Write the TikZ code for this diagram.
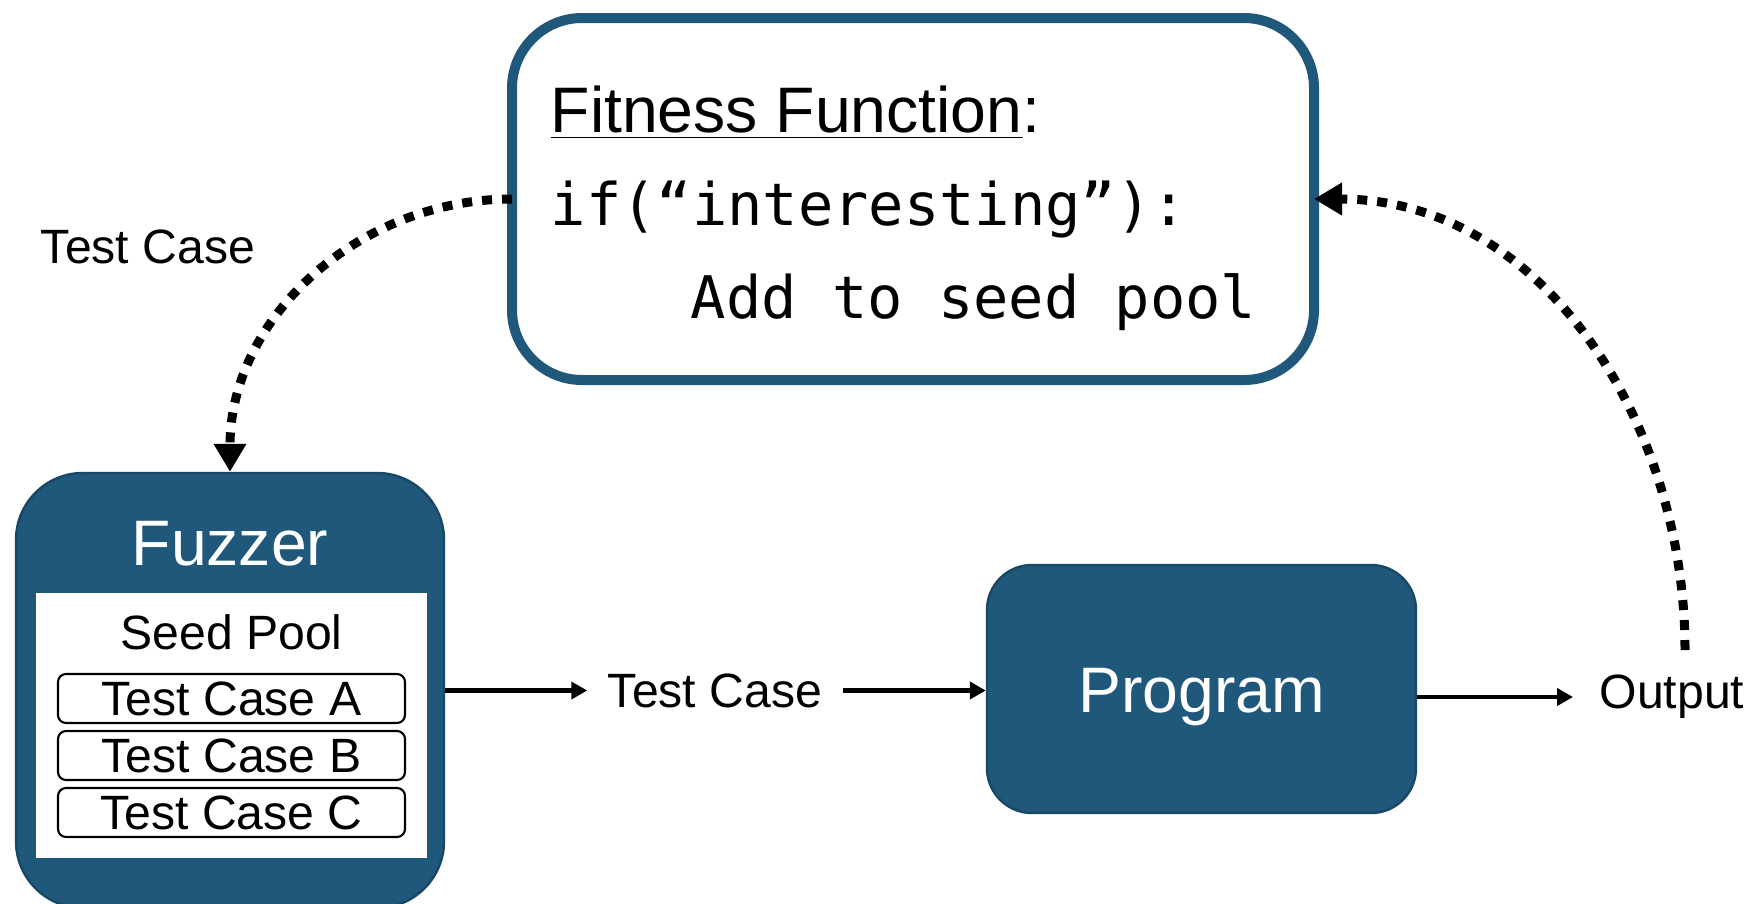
\documentclass[tikz,border=0pt]{standalone}
\usepackage{fontspec}
\setmainfont{Liberation Sans}
\setmonofont{DejaVu Sans Mono}
\usepackage{tikz}
\usetikzlibrary{arrows.meta,positioning}
\definecolor{fuzzBlue}{RGB}{31,88,122}
\definecolor{fuzzEdge}{RGB}{24,72,102}

\begin{document}
\begin{tikzpicture}[font=\fontsize{13.7}{16}\selectfont,
  bluebox/.style={draw=fuzzEdge,fill=fuzzBlue,line width=0.7pt,inner sep=0pt},
  bigtext/.style={text=white,font=\fontsize{18.3}{20}\selectfont,
                  text height=0.46cm,text depth=0pt,inner sep=0pt},
  lbl/.style={text height=0.345cm,text depth=0pt,inner ysep=0pt,inner xsep=0.2cm},
  casebox/.style={draw,rounded corners=0.08cm,line width=0.6pt,minimum width=3.47cm,
                  minimum height=0.49cm,inner sep=0pt,text height=0.345cm,text depth=0pt},
  flow/.style={line width=1.3pt,-{Triangle[length=0.16cm,width=0.17cm]}},
  loopback/.style={line width=0.09cm,dash pattern=on 0.1cm off 0.1cm,
                   -{Triangle[length=0.28cm,width=0.31cm]}}]
  \useasboundingbox (0,0) rectangle (17.52,-9.03);

  % Fitness function
  \node[draw=fuzzBlue,fill=white,line width=0.1cm,rounded corners=0.7cm,outer sep=0pt,
        minimum width=8.02cm,minimum height=3.62cm] (fitness) at (9.13,-1.99) {};
  \node[anchor=base west,inner sep=0pt,font=\fontsize{18.3}{20}\selectfont]
    (fitTitle) at (5.50,-1.32) {\underline{Fitness Function}:};
  \node[anchor=base west,inner sep=0pt,font=\fontsize{16.7}{18}\selectfont\ttfamily]
    (fitIf) at (5.50,-2.25) {if(“interesting”):};
  \node[anchor=base west,inner sep=0pt,font=\fontsize{16.7}{18}\selectfont\ttfamily]
    (fitAdd) at (6.90,-3.18) {Add to seed pool};

  % Fuzzer
  \node[bluebox,rounded corners=0.67cm,minimum width=4.28cm,minimum height=4.35cm]
    (fuzzer) at (2.30,-6.905) {};
  \node[bigtext] (fuzzerTitle) at (2.30,-5.425) {Fuzzer};
  \node[fill=white,minimum width=3.91cm,minimum height=2.65cm,inner sep=0pt]
    (pool) at (2.315,-7.255) {};
  \node[lbl] (poolTitle) at (2.315,-6.325) {Seed Pool};
  \foreach \y/\c in {6.985/A,7.555/B,8.125/C}
    \node[casebox] (case\c) at (2.315,-\y) {Test Case \c};

  % Program
  \node[bluebox,bigtext,rounded corners=0.45cm,minimum width=4.29cm,minimum height=2.48cm]
    (program) at (12.015,-6.89) {Program};

  % Labels
  \node[lbl] (tcMid) at (7.15,-6.905) {Test Case};
  \node[lbl,inner xsep=0.26cm] (output) at (16.72,-6.915) {Output};
  \node[lbl] (tcTop) at (1.48,-2.465) {Test Case};
  \coordinate (outTop) at (16.85,-6.50);

  % Flow
  \draw[flow] (fuzzer.east |- tcMid) -- (tcMid.west);
  \draw[flow] (tcMid.east) -- (program.west |- tcMid);
  \draw[flow] ([yshift=-0.08cm]program.east) -- ([yshift=-0.08cm]program.east -| output.west);

  % Feedback
  \draw[loopback] (fitness.west) to[out=180,in=90] (fuzzer.north);
  \draw[loopback] (outTop) to[out=90,in=0] (fitness.east);
\end{tikzpicture}
\end{document}
